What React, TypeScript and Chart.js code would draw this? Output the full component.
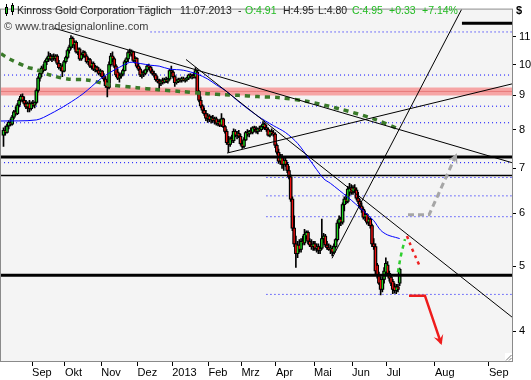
import React, { useEffect, useRef } from 'react';
import { Chart, registerables } from 'chart.js';

Chart.register(...registerables);

// ---- daily candles (trading-day index 0 = first candle, mid-Aug 2012; 229 = 11.07.2013)
const opens = [
  7.85, 7.98, 7.92, 8.10, 8.20, 8.15, 8.35, 8.50, 8.45, 8.70,
  8.85, 8.97, 8.85, 8.75, 8.65, 8.75, 8.60, 8.75, 8.70, 8.78,
  9.15, 9.55, 9.70, 9.88, 9.82, 10.10, 10.20, 10.30, 10.20, 10.28,
  10.22, 10.30, 10.05, 9.90, 9.95, 9.78, 10.10, 10.25, 10.50, 10.62,
  10.95, 10.70, 10.80, 10.45, 10.55, 10.20, 10.35, 10.42, 10.30, 10.10,
  10.18, 9.95, 10.05, 9.85, 9.92, 9.80, 9.70, 9.78, 9.60, 9.52,
  9.40, 9.25, 10.00, 10.30, 10.20, 9.95, 9.75, 9.55, 9.62, 9.68,
  9.80, 10.10, 10.20, 10.42, 10.38, 10.45, 10.15, 10.22, 9.95, 9.85,
  9.65, 9.72, 9.70, 9.82, 9.95, 9.92, 9.78, 9.70, 9.65, 9.50,
  9.45, 9.38, 9.45, 9.42, 9.50, 9.45, 9.52, 9.80, 9.75, 9.60,
  9.40, 9.45, 9.50, 9.48, 9.52, 9.48, 9.50, 9.55, 9.65, 9.60,
  9.62, 9.58, 9.75, 9.12, 8.85, 8.68, 8.55, 8.45, 8.32, 8.38,
  8.28, 8.32, 8.25, 8.30, 8.18, 8.22, 8.12, 8.30, 8.08, 7.95,
  7.65, 7.60, 7.75, 7.70, 7.95, 7.85, 7.90, 7.82, 7.62, 7.55,
  7.72, 7.92, 7.88, 7.95, 7.92, 8.05, 8.00, 7.95, 8.02, 8.00,
  8.08, 8.15, 8.05, 8.00, 7.85, 7.95, 7.90, 7.88, 7.58, 7.40,
  7.18, 7.30, 7.10, 7.20, 7.10, 6.95, 6.80, 6.30, 5.70, 5.40,
  5.22, 5.38, 5.30, 5.45, 5.42, 5.55, 5.62, 5.45, 5.38, 5.35,
  5.40, 5.32, 5.35, 5.28, 5.32, 5.50, 5.55, 5.38, 5.33, 5.30,
  5.32, 5.25, 5.35, 5.48, 5.80, 5.88, 5.82, 6.18, 6.30, 6.25,
  6.45, 6.55, 6.45, 6.55, 6.50, 6.32, 6.25, 6.15, 6.08, 5.92,
  5.98, 5.82, 5.88, 5.75, 5.40, 5.35, 5.02, 4.85, 4.78, 4.62,
  4.78, 4.90, 5.02, 4.88, 4.82, 4.75, 4.66, 4.60, 4.66, 4.72,
];
const highs = [
  8.05, 8.10, 8.15, 8.25, 8.30, 8.40, 8.55, 8.65, 8.75, 8.90,
  9.02, 9.05, 8.95, 8.85, 8.80, 8.85, 8.80, 8.85, 8.80, 9.20,
  9.60, 9.75, 9.95, 10.00, 10.15, 10.25, 10.45, 10.40, 10.35, 10.38,
  10.35, 10.35, 10.15, 10.05, 10.00, 10.15, 10.30, 10.55, 10.70, 11.05,
  11.00, 10.85, 10.85, 10.60, 10.60, 10.40, 10.50, 10.48, 10.35, 10.25,
  10.22, 10.10, 10.10, 9.98, 9.95, 9.90, 9.85, 9.80, 9.70, 9.60,
  9.45, 10.10, 10.40, 10.45, 10.25, 10.00, 9.85, 9.70, 9.72, 9.85,
  10.15, 10.25, 10.50, 10.55, 10.52, 10.48, 10.28, 10.25, 10.05, 9.90,
  9.78, 9.80, 9.85, 10.00, 10.02, 9.95, 9.85, 9.78, 9.70, 9.60,
  9.52, 9.50, 9.55, 9.55, 9.58, 9.55, 9.85, 9.95, 9.80, 9.65,
  9.50, 9.55, 9.55, 9.58, 9.58, 9.55, 9.58, 9.68, 9.70, 9.68,
  9.72, 9.90, 9.82, 9.15, 8.95, 8.72, 8.62, 8.55, 8.45, 8.42,
  8.38, 8.40, 8.35, 8.35, 8.28, 8.28, 8.45, 8.32, 8.12, 8.00,
  7.82, 7.80, 7.85, 8.02, 8.00, 7.95, 7.98, 7.88, 7.68, 7.78,
  7.95, 8.00, 7.98, 8.05, 8.08, 8.10, 8.08, 8.05, 8.10, 8.12,
  8.22, 8.18, 8.12, 8.05, 7.98, 8.02, 7.98, 7.92, 7.62, 7.48,
  7.35, 7.35, 7.25, 7.25, 7.15, 7.05, 6.85, 6.35, 5.95, 5.55,
  5.45, 5.48, 5.50, 5.55, 5.68, 5.65, 5.65, 5.50, 5.48, 5.45,
  5.45, 5.40, 5.40, 5.36, 5.88, 5.60, 5.58, 5.45, 5.40, 5.38,
  5.36, 5.40, 5.50, 5.85, 5.95, 5.92, 6.22, 6.35, 6.40, 6.58,
  6.65, 6.62, 6.60, 6.62, 6.55, 6.45, 6.30, 6.22, 6.12, 6.05,
  6.00, 5.92, 5.90, 5.78, 5.50, 5.40, 5.05, 4.90, 4.82, 4.82,
  4.98, 5.15, 5.08, 4.92, 4.85, 4.78, 4.72, 4.70, 4.70, 4.97,
];
const lows = [
  7.55, 7.85, 7.90, 8.02, 8.10, 8.12, 8.30, 8.40, 8.42, 8.65,
  8.80, 8.80, 8.70, 8.60, 8.50, 8.50, 8.55, 8.65, 8.62, 8.75,
  9.10, 9.45, 9.60, 9.75, 9.80, 10.00, 10.10, 10.15, 10.10, 10.15,
  10.12, 10.00, 9.85, 9.80, 9.60, 9.75, 10.05, 10.20, 10.40, 10.55,
  10.60, 10.55, 10.40, 10.35, 10.15, 10.15, 10.25, 10.25, 10.05, 10.00,
  9.90, 9.85, 9.80, 9.75, 9.75, 9.65, 9.62, 9.55, 9.45, 9.25,
  8.95, 9.20, 9.95, 10.10, 9.90, 9.60, 9.50, 9.42, 9.55, 9.62,
  9.78, 10.00, 10.10, 10.30, 10.30, 10.10, 10.05, 9.90, 9.80, 9.60,
  9.55, 9.60, 9.65, 9.75, 9.85, 9.72, 9.65, 9.58, 9.45, 9.40,
  9.15, 9.30, 9.35, 9.38, 9.40, 9.38, 9.48, 9.70, 9.55, 9.28,
  9.35, 9.40, 9.42, 9.42, 9.45, 9.42, 9.45, 9.50, 9.55, 9.52,
  9.55, 9.55, 9.10, 8.80, 8.62, 8.48, 8.40, 8.25, 8.20, 8.22,
  8.18, 8.20, 8.15, 8.12, 8.10, 8.08, 8.08, 8.05, 7.90, 7.60,
  7.40, 7.55, 7.65, 7.65, 7.80, 7.75, 7.78, 7.58, 7.50, 7.52,
  7.70, 7.82, 7.80, 7.88, 7.88, 7.95, 7.90, 7.88, 7.95, 7.95,
  8.02, 8.00, 7.95, 7.82, 7.80, 7.85, 7.82, 7.52, 7.35, 7.12,
  7.10, 7.00, 6.95, 7.05, 6.90, 6.75, 6.25, 5.65, 5.35, 4.98,
  5.15, 5.25, 5.25, 5.38, 5.38, 5.50, 5.40, 5.35, 5.30, 5.28,
  5.28, 5.25, 5.22, 5.22, 5.30, 5.42, 5.35, 5.30, 5.28, 5.22,
  5.18, 5.22, 5.32, 5.45, 5.70, 5.75, 5.78, 6.05, 6.20, 6.22,
  6.38, 6.40, 6.40, 6.45, 6.28, 6.20, 6.10, 6.02, 5.88, 5.85,
  5.78, 5.75, 5.70, 5.35, 5.30, 4.85, 4.80, 4.70, 4.53, 4.58,
  4.72, 4.85, 4.85, 4.75, 4.68, 4.55, 4.56, 4.55, 4.58, 4.68,
];
const closes = [
  7.98, 7.92, 8.10, 8.20, 8.15, 8.35, 8.50, 8.45, 8.70, 8.85,
  8.97, 8.85, 8.75, 8.65, 8.75, 8.60, 8.75, 8.70, 8.78, 9.15,
  9.55, 9.70, 9.88, 9.82, 10.10, 10.20, 10.30, 10.20, 10.28, 10.22,
  10.30, 10.05, 9.90, 9.95, 9.78, 10.10, 10.25, 10.50, 10.62, 10.95,
  10.70, 10.80, 10.45, 10.55, 10.20, 10.35, 10.42, 10.30, 10.10, 10.18,
  9.95, 10.05, 9.85, 9.92, 9.80, 9.70, 9.78, 9.60, 9.52, 9.30,
  9.25, 10.00, 10.30, 10.20, 9.95, 9.65, 9.55, 9.62, 9.68, 9.80,
  10.10, 10.20, 10.42, 10.38, 10.45, 10.15, 10.22, 9.95, 9.85, 9.65,
  9.72, 9.70, 9.82, 9.95, 9.92, 9.78, 9.70, 9.65, 9.50, 9.45,
  9.38, 9.45, 9.42, 9.50, 9.45, 9.52, 9.80, 9.75, 9.60, 9.40,
  9.45, 9.50, 9.48, 9.52, 9.48, 9.50, 9.55, 9.65, 9.60, 9.62,
  9.58, 9.80, 9.12, 8.85, 8.68, 8.55, 8.45, 8.32, 8.38, 8.28,
  8.32, 8.25, 8.30, 8.18, 8.22, 8.12, 8.30, 8.08, 7.95, 7.65,
  7.60, 7.75, 7.70, 7.95, 7.85, 7.90, 7.82, 7.62, 7.55, 7.72,
  7.92, 7.88, 7.95, 7.92, 8.05, 8.00, 7.95, 8.02, 8.00, 8.08,
  8.15, 8.05, 8.00, 7.85, 7.95, 7.90, 7.88, 7.58, 7.40, 7.18,
  7.30, 7.10, 7.20, 7.10, 6.95, 6.80, 6.30, 5.70, 5.40, 5.22,
  5.38, 5.30, 5.45, 5.42, 5.58, 5.62, 5.45, 5.38, 5.35, 5.40,
  5.32, 5.35, 5.28, 5.32, 5.50, 5.55, 5.38, 5.33, 5.30, 5.32,
  5.25, 5.35, 5.48, 5.80, 5.88, 5.82, 6.18, 6.30, 6.25, 6.52,
  6.55, 6.45, 6.55, 6.50, 6.32, 6.25, 6.15, 6.08, 5.92, 5.98,
  5.82, 5.88, 5.75, 5.40, 5.35, 4.92, 4.85, 4.72, 4.62, 4.78,
  4.92, 5.05, 4.88, 4.80, 4.72, 4.62, 4.60, 4.66, 4.62, 4.95,
];

// ---- axes
const monthLabels = ['Sep', 'Okt', 'Nov', 'Dez', '2013', 'Feb', 'Mrz', 'Apr', 'Mai', 'Jun', 'Jul', 'Aug', 'Sep'];
const monthTicks = [16.5, 35.5, 56.5, 77.5, 97.5, 118.5, 137.5, 157.5, 179.5, 201.5, 221.5, 249.4, 280.6];
const priceTicks = [4, 5, 6, 7, 8, 9, 10, 11];
const X_MIN = -1.45;
const X_MAX = 293.93;
const Y_MIN = 3.611;
const Y_MAX = 12.084;

// ---- moving averages
const blueMaDays = [-1.45, 19, 27, 37, 46, 56, 62, 67, 73, 79, 85, 90, 96, 104, 112, 118, 123, 129, 137, 147, 156, 163, 170, 177, 185, 189, 199, 208, 214, 218, 222, 228, 229];
const blueMaValues = [8.24, 8.27, 8.44, 8.73, 9.05, 9.52, 9.75, 9.91, 10.08, 10.04, 9.98, 9.95, 9.85, 9.81, 9.68, 9.52, 9.33, 9.12, 8.76, 8.38, 8.11, 7.92, 7.63, 7.21, 6.76, 6.65, 6.34, 6.05, 5.85, 5.66, 5.57, 5.51, 5.50];
const greenMaDays = [-1.45, 4, 14, 18, 27, 37, 48, 62, 77, 88, 102, 118, 128, 136, 147, 159, 175, 195, 214, 229];
const greenMaValues = [10.38, 10.18, 9.91, 9.85, 9.65, 9.52, 9.49, 9.33, 9.24, 9.18, 9.12, 9.05, 9.02, 9.00, 8.96, 8.93, 8.82, 8.58, 8.30, 8.00];

// ---- horizontal levels
const thickLevels = [11.53, 7.28, 4.85];
const thickLevelStarts = [265, -2, -2];
const thinLevels = [6.83];
const dottedLevels = [11.19, 9.65, 8.67, 8.19, 7.14, 6.785, 6.37, 5.93, 4.54];
const dottedLevelStarts = [85, -2, -2, -2, -2, 152, 152, 152, 152];
const zoneLevels = [9.12];

// ---- trend lines [start, end]
const downTrendADays = [29.2, 293.9];
const downTrendAPrices = [11.34, 7.14];
const downTrendBDays = [105.5, 293.9];
const downTrendBPrices = [10.18, 4.2];
const upTrendDays = [129.2, 293.9];
const upTrendPrices = [7.38, 9.36];
const steepTrendDays = [189.9, 266.2];
const steepTrendPrices = [5.14, 12.29];

// ---- projections
const grayArrowDays = [233.8, 246.0, 261.6];
const grayArrowPrices = [5.97, 5.97, 7.33];
const greenPathDays = [228.0, 229.8, 232.1];
const greenPathPrices = [4.9, 5.2, 5.49];
const redPathDays = [233.2, 236.7, 240.2];
const redPathPrices = [5.55, 5.27, 5.03];
const redArrowDays = [234.4, 243.6, 252.9];
const redArrowPrices = [4.52, 4.52, 3.84];

const GREEN = '#1ed41e';
const RED = '#ee1111';
const FONT = '"Liberation Sans", Arial, sans-serif';

function pts(days: number[], prices: number[]) {
  return days.map((d, i) => ({ x: d, y: prices[i] }));
}

export default function App() {
  const ref = useRef<HTMLCanvasElement>(null);

  useEffect(() => {
    document.body.style.margin = '0';
    const canvas = ref.current!;

    const line = (data: any[], color: string, width: number, dash: number[], order: number, extra: any = {}) => ({
      type: 'line',
      data,
      borderColor: color,
      backgroundColor: color,
      borderWidth: width,
      borderDash: dash,
      borderCapStyle: 'butt',
      pointRadius: 0,
      pointHoverRadius: 0,
      fill: false,
      tension: 0,
      clip: 0,
      order,
      ...extra,
    });
    const level = (price: number, start: number) => [
      { x: start, y: price },
      { x: X_MAX + 3, y: price },
    ];

    const datasets: any[] = [];
    zoneLevels.forEach((p) => {
      datasets.push(line(level(p, -2), '#f6a5a5', 8, [], 30));
      datasets.push(line(level(p, -2), '#e77b7b', 1, [], 29));
    });
    dottedLevels.forEach((p, i) => datasets.push(line(level(p, dottedLevelStarts[i]), '#0000ff', 1, [1, 3], 28)));

    const bodyRange = opens.map((o, i) => ({ x: i, y: [Math.min(o, closes[i]), Math.max(o, closes[i])] }));
    // wicks
    datasets.push({
      type: 'bar',
      data: opens.map((_, i) => ({ x: i, y: [lows[i], highs[i]] })),
      backgroundColor: '#000',
      borderWidth: 0,
      barThickness: 1,
      grouped: false,
      order: 21,
    });
    // body outlines
    datasets.push({
      type: 'bar',
      data: bodyRange,
      backgroundColor: '#000',
      borderWidth: 0,
      barThickness: 3,
      grouped: false,
      order: 20,
    });
    // body fills
    datasets.push({
      type: 'bar',
      data: bodyRange,
      backgroundColor: opens.map((o, i) => (closes[i] >= o ? GREEN : RED)),
      borderColor: '#000',
      borderWidth: { top: 1, bottom: 1, left: 0, right: 0 },
      borderSkipped: false,
      barThickness: 1.4,
      grouped: false,
      order: 19,
    });

    thickLevels.forEach((p, i) => datasets.push(line(level(p, thickLevelStarts[i]), '#000', 3, [], 8)));
    thinLevels.forEach((p) => datasets.push(line(level(p, -2), '#000', 1.5, [], 8)));
    datasets.push(line(pts(greenMaDays, greenMaValues), '#3a7a2a', 3.5, [5, 5], 6, { tension: 0.3 }));
    datasets.push(line(pts(blueMaDays, blueMaValues), '#0000ff', 1, [], 5, { tension: 0.3 }));
    datasets.push(line(pts(downTrendADays, downTrendAPrices), '#000', 1, [], 3));
    datasets.push(line(pts(downTrendBDays, downTrendBPrices), '#000', 1, [], 3));
    datasets.push(line(pts(upTrendDays, upTrendPrices), '#000', 1, [], 3));
    datasets.push(line(pts(steepTrendDays, steepTrendPrices), '#000', 1, [], 3));
    datasets.push(line(pts(grayArrowDays, grayArrowPrices), '#a6a6a6', 3, [6, 4], 2, { arrowHead: true }));
    datasets.push(line(pts(greenPathDays, greenPathPrices), '#2fcf2f', 2.5, [4, 4], 2, { tension: 0.4 }));
    datasets.push(line(pts(redPathDays, redPathPrices), '#ee2222', 2.5, [3, 4], 2, { tension: 0.4 }));
    datasets.push(line(pts(redArrowDays, redArrowPrices), '#ee1c1c', 2.5, [], 1, { arrowHead: true }));

    const bgPlugin = {
      id: 'bg',
      beforeDraw(chart: any) {
        const { ctx, chartArea: a } = chart;
        ctx.save();
        ctx.fillStyle = '#ffffff';
        ctx.fillRect(0, 0, chart.width, chart.height);
        ctx.fillStyle = '#f4f4f4';
        ctx.fillRect(a.left, a.top, a.right - a.left, a.bottom - a.top);
        ctx.restore();
      },
    };

    const arrowPlugin = {
      id: 'arrows',
      afterDatasetsDraw(chart: any) {
        const ctx = chart.ctx;
        chart.data.datasets.forEach((ds: any, di: number) => {
          if (!ds.arrowHead) return;
          const el = chart.getDatasetMeta(di).data;
          const a = el[el.length - 2];
          const b = el[el.length - 1];
          const ang = Math.atan2(b.y - a.y, b.x - a.x);
          const L = 10;
          const W = 5;
          const c = Math.cos(ang);
          const s = Math.sin(ang);
          const tx = b.x + c * 2;
          const ty = b.y + s * 2;
          ctx.save();
          ctx.fillStyle = ds.borderColor;
          ctx.beginPath();
          ctx.moveTo(tx, ty);
          ctx.lineTo(tx - L * c + W * s, ty - L * s - W * c);
          ctx.lineTo(tx - L * 0.6 * c, ty - L * 0.6 * s);
          ctx.lineTo(tx - L * c - W * s, ty - L * s + W * c);
          ctx.closePath();
          ctx.fill();
          ctx.restore();
        });
      },
    };

    const overlayPlugin = {
      id: 'overlay',
      afterDraw(chart: any) {
        const { ctx, chartArea: a } = chart;
        ctx.save();
        // frame
        ctx.strokeStyle = '#8a8a8a';
        ctx.lineWidth = 1;
        ctx.strokeRect(a.left - 0.5, a.top - 0.5, a.right - a.left + 1, a.bottom - a.top + 1);
        // resize glyph
        ctx.fillStyle = '#ffffff';
        ctx.fillRect(a.right - 7, a.bottom - 8, 7, 8);
        ctx.strokeStyle = '#777';
        ctx.beginPath();
        ctx.moveTo(a.right - 6, a.bottom - 0.5);
        ctx.lineTo(a.right - 0.5, a.bottom - 6);
        ctx.moveTo(a.right - 3, a.bottom - 0.5);
        ctx.lineTo(a.right - 0.5, a.bottom - 3);
        ctx.stroke();

        // icon: two small candles
        const candle = (x: number, top: number, bot: number, bt: number, bb: number) => {
          ctx.fillStyle = '#000';
          ctx.fillRect(x + 1, top, 1, bot - top);
          ctx.fillRect(x, bt, 3, bb - bt);
          ctx.fillStyle = GREEN;
          ctx.fillRect(x + 1, bt + 1, 1, bb - bt - 2);
        };
        candle(5, 4, 16, 7, 14);
        candle(11, 3, 15, 5, 12);

        // title
        ctx.font = `10.5px ${FONT}`;
        ctx.textBaseline = 'alphabetic';
        const dark = '#202020';
        const grn = '#22bb22';
        const segs: [string, number, string][] = [
          ['Kinross Gold Corporation Täglich', 17, dark],
          ['11.07.2013', 180, dark],
          ['-', 238, dark],
          ['O:4.91', 245, grn],
          ['H:4.95', 283, dark],
          ['L:4.80', 318, dark],
          ['C:4.95', 352, grn],
          ['+0.33', 389, grn],
          ['+7.14%', 422, grn],
        ];
        segs.forEach(([t, x, c]) => {
          ctx.fillStyle = c;
          ctx.fillText(t, x, 14);
        });
        ctx.font = `11px ${FONT}`;
        ctx.fillStyle = '#404040';
        ctx.fillText('© www.tradesignalonline.com', 4, 30);
        ctx.fillStyle = '#000';
        ctx.font = `bold 11px ${FONT}`;
        ctx.fillText('$', 516, 14);
        ctx.restore();
      },
    };

    const tickFont = { family: FONT, size: 11 };
    const chart = new Chart(canvas, {
      type: 'bar',
      data: { datasets },
      options: {
        animation: false,
        responsive: false,
        events: [],
        layout: { padding: { left: 1, top: 1, right: 0, bottom: 0 } },
        plugins: { legend: { display: false }, tooltip: { enabled: false } },
        scales: {
          x: {
            type: 'linear',
            min: X_MIN,
            max: X_MAX,
            offset: false,
            afterBuildTicks: (s: any) => {
              s.ticks = monthTicks.map((v) => ({ value: v }));
            },
            afterFit: (s: any) => {
              s.height = 19;
            },
            ticks: {
              autoSkip: false,
              maxRotation: 0,
              minRotation: 0,
              align: 'start',
              padding: 0,
              color: '#000',
              font: tickFont,
              callback: (_v: any, i: number) => monthLabels[i],
            },
            grid: { drawOnChartArea: false, drawTicks: true, tickLength: 5, color: '#000', offset: false },
            border: { display: false },
          },
          y: {
            type: 'logarithmic',
            position: 'right',
            min: Y_MIN,
            max: Y_MAX,
            afterBuildTicks: (s: any) => {
              s.ticks = priceTicks.map((v) => ({ value: v }));
            },
            afterFit: (s: any) => {
              s.width = 19;
            },
            ticks: {
              autoSkip: false,
              padding: 3,
              color: '#000',
              font: tickFont,
              callback: (v: any) => String(v),
            },
            grid: { drawOnChartArea: false, drawTicks: true, tickLength: 4, color: '#000' },
            border: { display: false },
          },
        },
      } as any,
      plugins: [bgPlugin, arrowPlugin, overlayPlugin],
    } as any);

    return () => chart.destroy();
  }, []);

  return <canvas ref={ref} width={531} height={380} style={{ display: 'block' }} />;
}
